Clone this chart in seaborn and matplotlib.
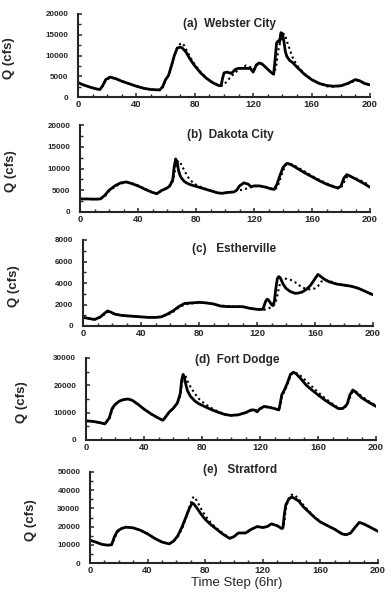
import matplotlib
matplotlib.use("Agg")
import matplotlib.pyplot as plt
from matplotlib.ticker import MultipleLocator, AutoMinorLocator
import seaborn as sns
import pandas as pd

# ---------------- data ----------------
t_a = [0,3,8,12,15,17,19,22,26,30,35,40,45,50,56,58,60,62,64,66,68,70,71,72,74,77,80,84,88,92,
       96,98,99,100,102,105,108,110,112,115,118,120,122,124,126,129,132,134,135,136,137,138,139,140,
       141,142,143,145,147,150,155,160,165,170,172,175,180,185,190,193,196,200]
obs_a = [3500,3000,2400,2000,1800,2800,4200,4800,4400,3800,3200,2600,2100,1800,1700,2500,4200,5200,7500,10000,
         11800,12000,11900,11600,10800,9000,7500,5800,4500,3500,2800,2700,4500,5800,6000,5700,6700,6900,6900,6900,
         6900,6000,7600,8200,8000,7000,6000,5500,9000,13000,13500,13200,15500,15300,13500,11000,9800,8800,8300,7200,
         5500,4200,3300,2800,2700,2600,2700,3300,4200,3900,3300,2900]
sim_a = [3500,3000,2400,2000,1800,2600,4000,4700,4400,3800,3200,2600,2100,1800,1700,2300,4000,5200,7500,10000,
         12000,12800,13000,12800,11500,9500,7800,6000,4600,3600,2900,2700,2800,3000,3800,5000,6000,6500,7000,7600,
         7200,6500,7800,8000,7900,7000,6000,5500,6500,8000,11000,12500,13500,14500,15200,14800,13500,11500,9500,7600,
         5600,4200,3300,2700,2400,2500,2700,3200,4000,3900,3400,2900]

t_b = [0,5,10,14,17,20,24,28,32,36,40,45,50,53,56,58,60,62,64,65,66,67,68,69,70,72,74,76,80,85,
       90,95,98,102,106,108,110,113,116,118,120,124,128,132,134,136,138,140,142,143,146,150,155,160,165,
       170,175,178,180,182,184,186,190,195,200]
obs_b = [3000,3000,2950,3000,3800,5000,6000,6700,6900,6500,6000,5200,4500,4200,4900,5200,5500,6000,7500,10500,
         12200,11500,9500,8400,7800,7000,6600,6300,5900,5400,4900,4400,4300,4500,4600,5000,6000,6700,6400,5800,
         6000,6000,5700,5300,5200,6500,8500,10200,11000,11200,10800,10000,9000,8100,7200,6400,5800,5500,6000,7800,
         8600,8300,7600,6700,5700]
sim_b = [3000,3000,2950,3000,3500,4800,5800,6500,6900,6600,6100,5300,4500,4200,4800,5200,5600,6200,7000,8500,
         10500,11500,11800,11400,10800,9500,8300,7300,6300,5500,4900,4400,4300,4500,4700,4900,5000,5200,5500,5700,
         5900,6000,5800,5400,5200,5600,7500,9500,10800,11100,11000,10300,9300,8300,7400,6600,5900,5500,5600,6800,
         8000,8200,7800,7000,6100]

t_c = [0,4,8,12,15,17,19,22,26,30,35,40,45,50,54,58,62,66,70,75,80,85,90,95,100,105,110,115,120,124,
       126,127,128,130,131,132,133,134,135,136,137,138,140,143,146,148,151,154,157,160,162,164,167,170,175,
       180,185,190,195,200]
obs_c = [800,700,600,850,1200,1400,1300,1100,1000,950,900,850,800,800,850,1100,1400,1800,2100,2150,
         2200,2150,2050,1850,1800,1800,1800,1650,1550,1550,2300,2500,2400,2000,1900,2300,3500,4400,4600,4500,
         4200,3900,3500,3200,3050,3050,3150,3400,3800,4400,4800,4600,4300,4100,3900,3800,3700,3500,3200,2900]
sim_c = [800,700,650,800,1100,1300,1300,1100,1000,950,900,850,800,800,850,1000,1300,1700,2000,2100,
         2150,2150,2050,1900,1850,1800,1800,1650,1550,1500,1550,1600,1650,1750,1850,2000,2300,2800,3500,4000,
         4300,4400,4400,4300,4100,3900,3600,3450,3400,3500,3700,4100,4300,4200,3900,3800,3700,3500,3200,2900]

t_d = [0,5,10,13,16,18,20,23,26,29,32,36,40,45,50,53,55,57,60,63,65,66,67,68,69,70,72,75,78,82,
       87,92,96,100,105,110,114,116,118,120,123,126,130,133,134,135,137,139,141,143,145,148,152,156,160,
       165,170,174,177,180,182,184,186,190,195,200]
obs_d = [7000,6800,6300,5900,8000,11500,13000,14200,14800,15000,14500,13000,11300,9500,8000,7200,8500,10000,11500,13500,
         17000,22000,24000,22500,20000,18000,16000,14300,13200,12200,11000,10000,9300,9000,9200,10000,11000,11000,10300,11500,
         12300,12000,11500,11000,13500,16500,18500,21000,24000,24800,24200,22500,20000,18200,16500,14500,12800,11500,11500,13000,
         16500,18300,17500,15500,13800,12300]
sim_d = [7000,6800,6300,5900,7500,11000,12800,14200,14800,15000,14500,13000,11300,9500,8000,7200,8300,9800,11500,13500,
         16000,20000,23000,24000,23000,21500,19500,17000,15000,13200,11500,10200,9400,9000,9200,10000,10800,11000,10800,11300,
         12000,12000,11500,11000,12500,15500,18000,20500,23500,24800,24500,23500,21500,19500,17500,15200,13200,11800,11500,12500,
         15500,17800,17800,16000,14200,12600]

t_e = [0,4,8,12,15,17,19,22,25,30,35,40,45,50,55,58,61,64,67,69,71,72,74,77,80,84,88,92,97,100,
       103,108,112,116,120,123,126,130,133,134,135,136,138,140,142,145,148,152,156,160,165,170,175,178,181,
       184,187,190,195,200]
obs_e = [12500,11500,10300,9800,10000,14500,17500,19000,19700,19300,18000,16000,13500,11500,10500,12000,15000,20000,26000,30000,
         33000,32500,30500,27000,24000,21000,18500,16000,13500,14500,16500,16500,18500,20000,19500,20000,21500,20500,19000,19500,
         27000,32000,35000,36300,35500,34000,31000,28000,25000,22500,20500,18500,16000,15500,16500,19500,22300,21500,19500,17400]
sim_e = [12500,11500,10300,9800,10000,13500,17000,19000,19700,19300,18000,16000,13500,11500,10500,12000,14500,19000,25500,31000,
         35000,36500,34500,30000,26000,22000,19000,16500,13700,14500,16500,16500,18500,20000,19500,20000,21500,20500,19000,19000,
         23000,30000,35500,37500,37500,35000,32000,28500,25300,22700,20500,18500,16000,15500,16500,19500,22300,21500,19500,17400]

titles = ["(a)  Webster City", "(b)  Dakota City", "(c)   Estherville", "(d)  Fort Dodge", "(e)   Stratford"]
ymax = [20000, 20000, 8000, 30000, 50000]
ystep = [5000, 5000, 2000, 10000, 10000]
x_ticks = [0, 40, 80, 120, 160, 200]

series = [(t_a, obs_a, sim_a), (t_b, obs_b, sim_b), (t_c, obs_c, sim_c),
          (t_d, obs_d, sim_d), (t_e, obs_e, sim_e)]

# ---------------- layout (pixel boxes of the scanned figure) ----------------
W, H = 391, 601
boxes = [(78, 370, 14, 97), (80, 370, 125, 212), (83, 373, 240, 326),
         (86, 376, 358, 440), (90, 378, 472, 563)]
title_y = [0.88, 0.88, 0.9, 0.98, 1.02]
ylab_x = [9, 11, 14, 22, 31]

sns.set_style("ticks")
plt.rcParams["font.family"] = ["Liberation Sans", "DejaVu Sans"]

fig = plt.figure(figsize=(W / 100, H / 100), dpi=100)

for i, ((t, obs, sim), (l, r, tp, bt)) in enumerate(zip(series, boxes)):
    ax = fig.add_axes([l / W, 1 - bt / H, (r - l) / W, (bt - tp) / H])
    df = pd.DataFrame({"t": t, "obs": obs, "sim": sim})
    sns.lineplot(data=df, x="t", y="sim", ax=ax, color="black", lw=1.5,
                 linestyle=(0, (1, 1.5)))
    sns.lineplot(data=df, x="t", y="obs", ax=ax, color="black", lw=2.0)
    ax.set_xlim(0, 200)
    ax.set_ylim(0, ymax[i])
    ax.xaxis.set_minor_locator(MultipleLocator(10))
    ax.yaxis.set_minor_locator(AutoMinorLocator(2))
    ax.set_xticks(x_ticks)
    ax.set_xticklabels([str(v) for v in x_ticks], fontsize=6.8, fontweight="bold")
    yt = list(range(0, ymax[i] + 1, ystep[i]))
    ax.set_yticks(yt)
    ax.set_yticklabels([str(v) for v in yt], fontsize=5.8, fontweight="bold")
    ax.tick_params(axis="both", which="major", direction="in", length=3, width=1.1)
    ax.tick_params(axis="both", which="minor", direction="in", length=2, width=1.0)
    ax.tick_params(axis="y", pad=7)
    ax.tick_params(axis="x", pad=2.5)
    for s in ["top", "right"]:
        ax.spines[s].set_visible(False)
    for s in ["left", "bottom"]:
        ax.spines[s].set_linewidth(1.5)
    ax.set_xlabel("")
    ax.set_ylabel("")
    ax.text(0.52, title_y[i], titles[i], transform=ax.transAxes, ha="center", va="center",
            fontsize=8.5, fontweight="bold")
    fig.text(ylab_x[i] / W, 1 - ((tp + bt) / 2 + 3) / H, "Q (cfs)", rotation=90,
             ha="center", va="center", fontsize=9.5, fontweight="bold")

fig.text(237 / W, 1 - 583 / H, "Time Step (6hr)", ha="center", va="center", fontsize=9.5)

fig.savefig("out.png", dpi=100)
